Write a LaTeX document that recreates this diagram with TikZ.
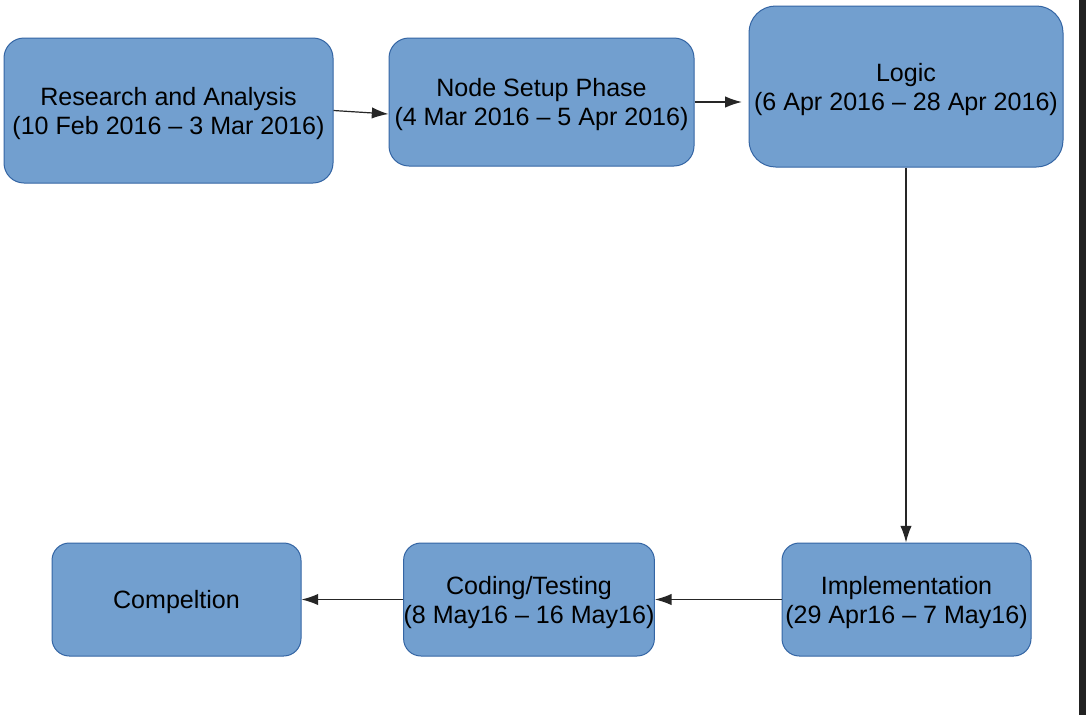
\documentclass[tikz,border=0pt]{standalone}
\usepackage{fontspec}
\setmainfont{Liberation Sans}
\usetikzlibrary{arrows.meta}

\definecolor{boxfill}{HTML}{729FCF}
\definecolor{boxline}{HTML}{3465A4}
\definecolor{edgegrey}{HTML}{222222}

% pushes the text of a box a little below its middle
\newcommand{\topgap}{\rule{0pt}{18pt}}

\tikzset{every picture/.style={line width=0.75pt}}
\tikzset{
  phase/.style={draw=boxline, fill=boxfill, rounded corners=15pt, align=center, inner sep=0pt,
    font=\fontsize{18.8}{21.75}\selectfont, text=black},
  flow/.style={draw=black!85, line width=0.9pt, -{Latex[length=12.5pt,width=8.5pt]}}
}

\begin{document}
\begin{tikzpicture}[x=0.75pt,y=0.75pt,yscale=-1,xscale=1]
	\useasboundingbox (0,0) rectangle (1086,715);
	\fill [white] (0,0) rectangle (1086,715);
	%Shape: Rectangle, right edge of the window
	\fill [edgegrey] (1079,0) rectangle (1086,715);

	%Rounded Rect
	\node [phase, minimum width=246.75pt, minimum height=108.75pt] (research) at (168.5,110.5) {\topgap Research and Analysis\\(10 Feb 2016 -- 3 Mar 2016)};
	%Rounded Rect
	\node [phase, minimum width=228.75pt, minimum height=96pt] (setup) at (541.5,102) {\topgap Node Setup Phase\\(4 Mar 2016 -- 5 Apr 2016)};
	%Rounded Rect
	\node [phase, rounded corners=20pt, minimum width=235.5pt, minimum height=120.75pt] (logic) at (906,86.5) {\topgap Logic\\(6 Apr 2016 -- 28 Apr 2016)};
	%Rounded Rect
	\node [phase, rounded corners=13pt, minimum width=186.75pt, minimum height=84.75pt] (implementation) at (906.5,599.5) {\topgap Implementation\\(29 Apr16 -- 7 May16)};
	%Rounded Rect
	\node [phase, rounded corners=13pt, minimum width=187.5pt, minimum height=84.75pt] (coding) at (529,599.5) {\topgap Coding/Testing\\(8 May16 -- 16 May16)};
	%Rounded Rect
	\node [phase, rounded corners=13pt, minimum width=186.75pt, minimum height=84.75pt] (completion) at (176.5,599.5) {\topgap Compeltion};

	%Straight Lines
	\draw [flow] (research.east) -- ([yshift=9pt]setup.west);
	%Straight Lines
	\draw [flow, shorten >=5pt] (setup.east) -- (logic.west |- setup.east);
	%Straight Lines
	\draw [flow] (logic.south) -- (implementation.north -| logic.south);
	%Straight Lines
	\draw [flow] (implementation.west) -- (coding.east);
	%Straight Lines
	\draw [flow] (coding.west) -- (completion.east);
\end{tikzpicture}
\end{document}
